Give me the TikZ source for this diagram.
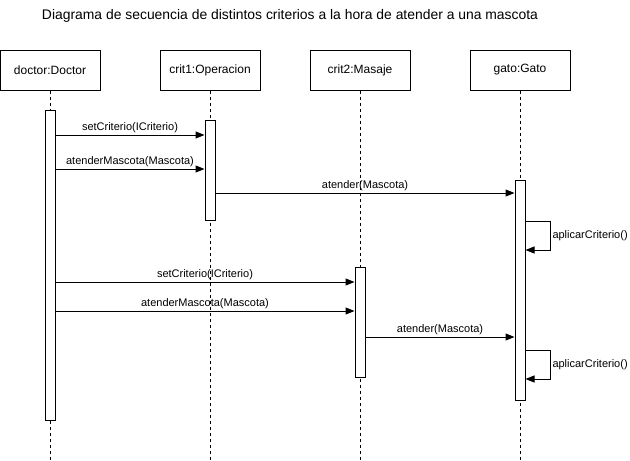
\documentclass[tikz,border=0pt]{standalone}
\usepackage{fontspec}
\setmainfont{Liberation Sans}
\usetikzlibrary{arrows.meta}
\begin{document}
\begin{tikzpicture}[x=1pt,y=-1pt,
  obj/.style={draw,line width=1pt,minimum width=100pt,minimum height=40pt,inner sep=0pt,font=\fontsize{12}{14}\selectfont},
  act/.style={draw,line width=1pt,fill=white,minimum width=10pt,inner sep=0pt},
  life/.style={line width=0.8pt,dash pattern=on 3pt off 3pt},
  msg/.style={line width=1pt,-{Triangle[length=9pt,width=7pt]}},
  lbl/.style={font=\fontsize{11}{12}\selectfont,inner sep=2pt}]
\useasboundingbox (0,0) rectangle (630,461);
\node[font=\fontsize{13.9}{16}\selectfont] (title) at (290,16) {Diagrama de secuencia de distintos criterios a la hora de atender a una mascota};
% objects
\node[obj] (doc) at (50,70) {doctor:Doctor};
\node[obj] (c1) at (210,70) {crit1:Operacion};
\node[obj] (c2) at (360,70) {crit2:Masaje};
\node[obj] (gato) at (520,70) {gato:Gato};
% lifelines
\coordinate (docE) at (50,461);
\coordinate (c1E) at (210,461);
\coordinate (c2E) at (360,461);
\coordinate (gatoE) at (520,461);
\draw[life] (doc.south) -- (docE);
\draw[life] (c1.south) -- (c1E);
\draw[life] (c2.south) -- (c2E);
\draw[life] (gato.south) -- (gatoE);
% activations
\node[act,minimum height=310pt] (dA) at (50,265) {};
\node[act,minimum height=100pt] (c1A) at (210,170) {};
\node[act,minimum height=110pt] (c2A) at (360,322) {};
\node[act,minimum height=220pt] (gA) at (520,290) {};
% messages
\draw[msg] (dA.east |- 0,135) -- node[lbl,above] {setCriterio(ICriterio)} (c1A.west |- 0,135);
\draw[msg] (dA.east |- 0,169) -- node[lbl,above] {atenderMascota(Mascota)} (c1A.west |- 0,169);
\draw[msg] (c1A.east |- 0,193) -- node[lbl,above] {atender(Mascota)} (gA.west |- 0,193);
\draw[msg] (gA.east |- 0,221) -- (550,221) -- node[lbl,right,pos=0.5] {aplicarCriterio()} (550,250) -- (gA.east |- 0,250);
\draw[msg] (dA.east |- 0,282) -- node[lbl,above] {setCriterio(ICriterio)} (c2A.west |- 0,282);
\draw[msg] (dA.east |- 0,311) -- node[lbl,above] {atenderMascota(Mascota)} (c2A.west |- 0,311);
\draw[msg] (c2A.east |- 0,337) -- node[lbl,above] {atender(Mascota)} (gA.west |- 0,337);
\draw[msg] (gA.east |- 0,350) -- (550,350) -- node[lbl,right,pos=0.5] {aplicarCriterio()} (550,379) -- (gA.east |- 0,379);
\end{tikzpicture}
\end{document}
